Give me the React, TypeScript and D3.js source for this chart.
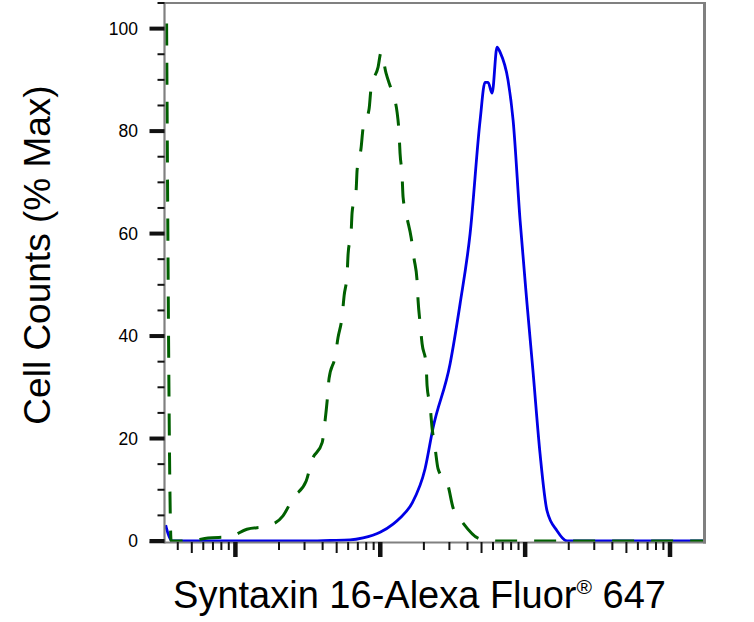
import * as d3 from 'd3';

// fluorescence intensity (x) and % of max (y)
const isotypeX = [
  33.5, 36, 47.9, 64.8, 90.5, 120, 166, 213, 250, 308, 338, 397, 416, 430, 443, 488, 511, 545, 563,
  590, 600, 629, 639, 681, 692, 737, 761, 837, 864, 966, 1013, 1096, 1206, 1306, 1348, 1369, 1414,
  1437, 1531, 1632, 1711, 1795, 1824, 1882, 1944, 2071, 2104, 2207, 2278, 2389, 2505, 2937, 3180,
  3727, 4884, 6710, 173000,
];
const isotypeY = [
  101, 0, 0, 0.6, 0.8, 2.3, 2.9, 4.9, 8.4, 11.7, 15.8, 19.2, 23.5, 27.4, 31.7, 36.0, 39.7, 43.8, 47.9,
  52.0, 56.1, 60.2, 64.1, 68.4, 72.4, 76.7, 80.6, 84.3, 88.4, 92.5, 95.4, 91.3, 87.6, 83.7, 79.6, 75.7,
  71.4, 67.1, 63.0, 59.3, 55.1, 50.8, 46.9, 42.6, 38.5, 34.6, 30.3, 26.4, 22.1, 18.2, 14.1, 10.8, 6.5,
  3.5, 0.4, 0, 0,
];

const stainedX = [
  33, 34.3, 36.6, 300, 451, 619, 761, 997, 1225, 1369, 1658, 2038, 2314, 3034, 3556, 4169, 4887, 5284,
  5546, 5916, 6397, 6714, 7621, 8260, 9226, 10304, 11324, 12677, 14158, 16596, 19454, 173000,
];
const stainedY = [
  3.1, 1.4, 0, 0, 0.1, 0.2, 0.6, 1.7, 3.3, 4.5, 7.4, 14.1, 22.1, 34.6, 46.3, 60.0, 82.1, 89.5,
  89.5, 87.4, 96.4, 95.4, 89.9, 82.1, 62.6, 46.3, 33.2, 17.0, 5.9, 2.0, 0, 0,
];

const yTickLabels = [0, 20, 40, 60, 80, 100];
const decades = [100, 1000, 10000, 100000];

const W = 754;
const H = 622;
const left = 164.5;
const right = 704.5;
const top = 3;
const bottom = 541;
const font = "'Liberation Sans', Arial, Helvetica, sans-serif";

export default function App() {
  const x = d3.scaleLog().domain([32.4, 173000]).range([left, right]);
  const y = d3.scaleLinear().domain([0, 105]).range([bottom, top]);

  const line = d3
    .line<[number, number]>()
    .x((d) => x(d[0]))
    .y((d) => y(d[1]))
    .curve(d3.curveMonotoneX);

  const isotype = isotypeX.map((v, i) => [v, isotypeY[i]] as [number, number]);
  const stained = stainedX.map((v, i) => [v, stainedY[i]] as [number, number]);

  const yMinor = d3.range(0, 106, 5).filter((v) => v % 20 !== 0);

  // log minor ticks 2..9 of each decade inside the domain
  const [d0, d1] = x.domain();
  const xMinor: number[] = [];
  for (let e = 1; e <= 5; e++) {
    for (let m = 2; m <= 9; m++) {
      const v = m * 10 ** e;
      if (v > d0 && v < d1) xMinor.push(v);
    }
  }

  return (
    <svg
      width={W}
      height={H}
      style={{ position: 'absolute', left: 0, top: 0, background: '#fff' }}
    >
      <defs>
        <clipPath id='plot'>
          <rect x={left} y={top} width={right - left} height={bottom - top + 1} />
        </clipPath>
      </defs>

      {/* curves */}
      <g clipPath='url(#plot)' fill='none'>
        <path d={line(stained) ?? ''} stroke='#0000e6' strokeWidth={2.8} strokeLinejoin='round' />
        <path
          d={line(isotype) ?? ''}
          stroke='#006000'
          strokeWidth={3}
          strokeDasharray='22 17'
        />
      </g>

      {/* frame */}
      <g stroke='#808080' fill='none'>
        <line x1={left} x2={right + 1.5} y1={top} y2={top} strokeWidth={2} />
        <line x1={right} x2={right} y1={top} y2={bottom + 2.5} strokeWidth={3} />
        <line x1={left} x2={left} y1={top - 1} y2={bottom + 2.5} strokeWidth={2.2} />
        <line x1={left - 15} x2={right + 1.5} y1={bottom + 1.5} y2={bottom + 1.5} strokeWidth={2.2} />
      </g>

      {/* y ticks */}
      <g stroke='#111'>
        {yMinor.map((v) => (
          <line key={v} x1={left - 7} x2={left} y1={y(v)} y2={y(v)} strokeWidth={2} />
        ))}
        {yTickLabels.map((v) => (
          <line key={v} x1={left - 15} x2={left} y1={y(v)} y2={y(v)} strokeWidth={4} />
        ))}
      </g>
      <g fontFamily={font} fontSize={17.5} textAnchor='end' fill='#000'>
        {yTickLabels.map((v) => (
          <text key={v} x={138} y={y(v)} dy='0.36em'>
            {v}
          </text>
        ))}
      </g>

      {/* x ticks */}
      <g stroke='#111'>
        {xMinor.map((v) => {
          const m = Math.round(v / 10 ** Math.floor(Math.log10(v) + 1e-9));
          return (
            <line
              key={v}
              x1={x(v)}
              x2={x(v)}
              y1={bottom + 1}
              y2={bottom + (m === 5 ? 12 : 9)}
              strokeWidth={2}
            />
          );
        })}
        {decades.map((v) => (
          <line key={v} x1={x(v)} x2={x(v)} y1={bottom + 1} y2={bottom + 16} strokeWidth={4.5} />
        ))}
      </g>

      {/* axis titles */}
      <text
        x={419.5}
        y={607.7}
        textAnchor='middle'
        fontFamily={font}
        fontSize={38}
        fill='#000'
      >
        Syntaxin 16-Alexa Fluor
        <tspan fontSize={21} dy={-13.5}>®</tspan>
        <tspan dy={13.5}> 647</tspan>
      </text>
      <text
        transform='translate(50,255) rotate(-90)'
        textAnchor='middle'
        fontFamily={font}
        fontSize={37}
        fill='#000'
      >
        Cell Counts (% Max)
      </text>
    </svg>
  );
}
